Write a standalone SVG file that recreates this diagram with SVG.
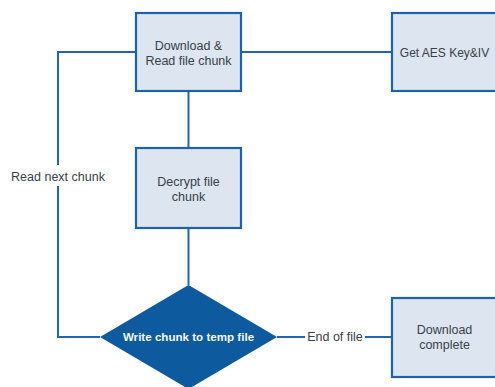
<svg xmlns="http://www.w3.org/2000/svg" width="495" height="387" viewBox="0 0 495 387">
<style>
.box{fill:#dce5f0;stroke:#1f62ac;stroke-width:2.2}
.line{fill:none;stroke:#2466ae;stroke-width:2}
.t{font-family:"Liberation Sans",Arial,sans-serif;font-size:12.5px;fill:#3a404a;text-anchor:middle}
.w{font-family:"Liberation Sans",Arial,sans-serif;font-size:11.6px;font-weight:bold;fill:#f4f7fb;text-anchor:middle}
</style>
<rect width="495" height="387" fill="#ffffff"/>
<g id="connectors">
<path class="line" d="M188.5,91 V148"/>
<path class="line" d="M188.5,228 V285"/>
<path class="line" d="M241,52 H392"/>
<path class="line" d="M136,52 H58 V165 M58,186 V337 H100"/>
<path class="line" d="M277,337 H305 M365,337 H392"/>
<text class="t" x="58" y="181">Read next chunk</text>
<text class="t" x="335" y="341">End of file</text>
</g>
<g id="download-read">
<rect class="box" x="136" y="13" width="105" height="78"/>
<text class="t" x="188.5" y="49.5">Download &amp;</text>
<text class="t" x="188.5" y="64.5">Read file chunk</text>
</g>
<g id="get-aes">
<rect class="box" x="392" y="13" width="105" height="78"/>
<text class="t" x="444.5" y="56.5" style="font-size:12px">Get AES Key&amp;IV</text>
</g>
<g id="decrypt">
<rect class="box" x="136" y="148" width="105" height="80"/>
<text class="t" x="188.5" y="186">Decrypt file</text>
<text class="t" x="188.5" y="201">chunk</text>
</g>
<g id="write-chunk">
<polygon points="188.5,285 277,337 188.5,389 100,337" fill="#0e5a9e"/>
<text class="w" x="188.5" y="341">Write chunk to temp file</text>
</g>
<g id="download-complete">
<rect class="box" x="392" y="298" width="105" height="79"/>
<text class="t" x="444.5" y="334">Download</text>
<text class="t" x="444.5" y="349">complete</text>
</g>
</svg>
